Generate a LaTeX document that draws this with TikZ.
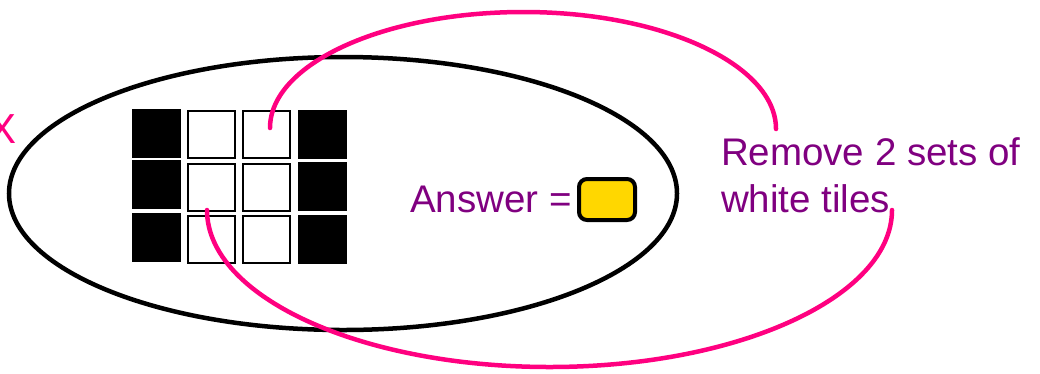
\documentclass[tikz,border=0pt]{standalone}
\usepackage{fontspec}
\setmainfont{Liberation Sans}
\definecolor{hotpink}{RGB}{255,0,128}
\definecolor{txtpurple}{RGB}{128,0,128}
\definecolor{gold}{RGB}{255,215,0}
\tikzset{
  blacktile/.style={rectangle, fill=black, inner sep=0pt, outer sep=0pt, minimum size=49pt},
  whitetile/.style={rectangle, draw=black, fill=white, line width=2pt, inner sep=0pt, outer sep=0pt, minimum size=47pt},
  bigtext/.style={font=\fontsize{38.5}{47}\selectfont, text=txtpurple, inner sep=0pt, outer sep=0pt},
  pinkcurve/.style={draw=hotpink, line width=4.5pt, line cap=round},
  ansbox/.style={rectangle, rounded corners=8pt, draw=black, fill=gold, line width=4pt, minimum width=56pt, minimum height=41pt, inner sep=0pt}
}
\begin{document}
\begin{tikzpicture}[x=1pt,y=-1pt]
\useasboundingbox (0,0) rectangle (1040,373);
% partial letter at left edge
\node[font=\fontsize{42}{50}\selectfont, text=hotpink, anchor=base, inner sep=0pt] (xl) at (3,143) {X};
% big ellipse
\draw[line width=4.5pt] (343,193.5) ellipse [x radius=334pt, y radius=136.5pt];
% tiles
\node[blacktile] (t11) at (156.5,133.5) {};
\node[whitetile] (t12) at (211.5,134) {};
\node[whitetile] (t13) at (266,134) {};
\node[blacktile] (t14) at (322,134.5) {};
\node[blacktile] (t21) at (156.5,184.5) {};
\node[whitetile] (t22) at (211.5,187) {};
\node[whitetile] (t23) at (266,187) {};
\node[blacktile] (t24) at (322,186.5) {};
\node[blacktile] (t31) at (156.5,237.5) {};
\node[whitetile] (t32) at (211.5,239) {};
\node[whitetile] (t33) at (266,239) {};
\node[blacktile] (t34) at (322,239.5) {};
% answer
\node[bigtext, anchor=base west] (ans) at (410,212) {Answer =};
\node[ansbox] (box) at (607,199.5) {};
% remove text
\node[bigtext, anchor=base west, align=left] (rem) at (721,212) {Remove 2 sets of\\white tiles};
% pink curves
\coordinate (a1) at (270,128);
\coordinate (b1) at (776,129);
\coordinate (a2) at (207,210);
\coordinate (b2) at (892,210);
\draw[pinkcurve] (a1) .. controls (270,64) and (383.5,12) .. (523.5,12)
                      .. controls (663.5,12) and (776,65) .. (b1);
\draw[pinkcurve] (a2) .. controls (207,296.7) and (360.3,367) .. (549.5,367)
                      .. controls (738.7,367) and (892,296.7) .. (b2);
\end{tikzpicture}
\end{document}
